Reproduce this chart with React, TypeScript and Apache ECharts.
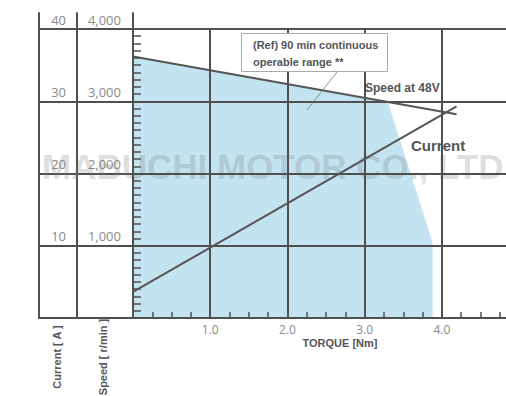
import { useEffect, useRef } from 'react';
import * as echarts from 'echarts';

// Data
const torqueTicks = [1, 2, 3, 4];
const speedTicks = [1000, 2000, 3000, 4000];
const currentTicks = [10, 20, 30, 40];
const speedTorque = [0, 4.19];
const speedValues = [3620, 2820];
const currentTorque = [0, 4.19];
const currentValues = [3.6, 29.3];
const rangeTorque = [0, 3.3, 3.88];
const rangeSpeed = [3620, 2990, 1040];

export default function App() {
  const ref = useRef<HTMLDivElement>(null);
  useEffect(() => {
    const chart = echarts.init(ref.current!, null, { renderer: 'svg' });
    const lineC = '#505050';
    const labelC = '#8a8a8a';
    const textC = '#555555';
    const font = 'Open Sans';
    const bold = '"Liberation Sans", Arial, sans-serif';
    const colMaxCurrent = (40 * 305) / 289;
    const colMaxSpeed = (4000 * 305) / 289;
    const axisLine = { show: true, onZero: false, lineStyle: { color: lineC, width: 2 } };
    const split = { show: true, showMinLine: false, showMaxLine: false, lineStyle: { color: lineC, width: 2 } };

    const option: any = {
      animation: false,
      textStyle: { fontFamily: font },
      grid: [
        { left: 133, right: 0, top: 29, bottom: 78, outerBoundsMode: 'none' },
        { left: 39, width: 38, top: 13, bottom: 78, outerBoundsMode: 'none' },
        { left: 77, width: 56, top: 13, bottom: 78, outerBoundsMode: 'none' },
      ],
      xAxis: [
        {
          gridIndex: 0, type: 'value', min: 0, max: 4.83, interval: 1, z: 3,
          axisLine,
          axisTick: { show: false, inside: true },
          minorTick: { show: true, splitNumber: 4, length: 6, lineStyle: { color: lineC, width: 1.5 } },
          minorSplitLine: { show: false },
          axisLabel: {
            formatter: (v: number) => (torqueTicks.includes(v) ? v.toFixed(1) : ''),
            color: labelC, fontSize: 12, fontFamily: font, margin: 5,
          },
          splitLine: split,
        },
        { gridIndex: 1, type: 'value', min: 0, max: 1, axisLine, axisTick: { show: false }, axisLabel: { show: false }, splitLine: { show: false } },
        { gridIndex: 2, type: 'value', min: 0, max: 1, axisLine, axisTick: { show: false }, axisLabel: { show: false }, splitLine: { show: false } },
      ],
      yAxis: [
        {
          gridIndex: 0, type: 'value', min: 0, max: 4000, interval: 1000, z: 3,
          axisLine,
          axisTick: { show: false, inside: true },
          minorTick: { show: true, splitNumber: 10, length: 8, lineStyle: { color: lineC, width: 1.5 } },
          minorSplitLine: { show: false },
          axisLabel: { show: false },
          splitLine: { ...split, showMaxLine: true },
        },
        { gridIndex: 0, type: 'value', min: 0, max: 40, show: false },
        {
          gridIndex: 1, type: 'value', position: 'left', min: 0, max: colMaxCurrent, interval: 10,
          axisLine, axisTick: { show: false }, axisLabel: { show: false }, splitLine: split,
        },
        {
          gridIndex: 1, type: 'value', position: 'right', min: 0, max: colMaxCurrent, interval: 10,
          axisLine, axisTick: { show: false }, splitLine: { show: false },
          axisLabel: {
            inside: true, margin: 11, verticalAlign: 'bottom', padding: [0, 0, 3, 0],
            formatter: (v: number) => (currentTicks.includes(v) ? String(v) : ''),
            color: labelC, fontSize: 13, fontFamily: font,
          },
        },
        {
          gridIndex: 2, type: 'value', position: 'right', min: 0, max: colMaxSpeed, interval: 1000,
          axisLine, axisTick: { show: false }, splitLine: split,
          axisLabel: {
            inside: true, margin: 12, verticalAlign: 'bottom', padding: [0, 0, 3, 0],
            formatter: (v: number) => (speedTicks.includes(v) ? v.toLocaleString('en-US') : ''),
            color: labelC, fontSize: 13, fontFamily: font,
          },
        },
      ],
      series: [
        {
          type: 'line', xAxisIndex: 0, yAxisIndex: 0, z: 1, silent: true,
          data: rangeTorque.map((t, i) => [t, rangeSpeed[i]]),
          symbol: 'none', lineStyle: { width: 0 },
          areaStyle: { color: '#c2e3ef', opacity: 1 },
        },
        {
          type: 'line', xAxisIndex: 0, yAxisIndex: 0, z: 5, silent: true,
          data: speedTorque.map((t, i) => [t, speedValues[i]]),
          symbol: 'none', lineStyle: { color: '#555', width: 2 },
        },
        {
          type: 'line', xAxisIndex: 0, yAxisIndex: 1, z: 5, silent: true,
          data: currentTorque.map((t, i) => [t, currentValues[i]]),
          symbol: 'none', lineStyle: { color: '#555', width: 2 },
        },
      ],
      graphic: [
        {
          type: 'text', x: 42, y: 166, z: 2, silent: true,
          style: { text: 'MABUCHI MOTOR CO., LTD', font: `bold 35px ${bold}`, fill: 'rgba(125,125,125,0.26)', align: 'left', verticalAlign: 'middle' },
        },
        {
          type: 'rect', z: 6, shape: { x: 241.5, y: 33.5, width: 146, height: 38 },
          style: { fill: '#ffffff', stroke: '#aaaaaa', lineWidth: 1 },
        },
        {
          type: 'text', x: 253, y: 45, z: 7,
          style: { text: '(Ref) 90 min continuous', font: `bold 11px ${bold}`, fill: textC, align: 'left', verticalAlign: 'middle' },
        },
        {
          type: 'text', x: 253, y: 62, z: 7,
          style: { text: 'operable range **', font: `bold 11px ${bold}`, fill: textC, align: 'left', verticalAlign: 'middle' },
        },
        {
          type: 'line', z: 7, shape: { x1: 337, y1: 72, x2: 307, y2: 110 },
          style: { stroke: '#777', lineWidth: 0.8 },
        },
        {
          type: 'text', x: 365, y: 88, z: 7,
          style: { text: 'Speed at 48V', font: `bold 12px ${bold}`, fill: textC, align: 'left', verticalAlign: 'middle' },
        },
        {
          type: 'text', x: 411, y: 145, z: 7,
          style: { text: 'Current', font: `bold 15px ${bold}`, fill: textC, align: 'left', verticalAlign: 'middle' },
        },
        {
          type: 'text', x: 340, y: 343, z: 7,
          style: { text: 'TORQUE [Nm]', font: `bold 11px ${bold}`, fill: textC, align: 'center', verticalAlign: 'middle' },
        },
        {
          type: 'text', x: 57, y: 357, z: 7, rotation: Math.PI / 2,
          style: { text: 'Current [ A ]', font: `bold 11px ${bold}`, fill: textC, align: 'center', verticalAlign: 'middle' },
        },
        {
          type: 'text', x: 103, y: 357, z: 7, rotation: Math.PI / 2,
          style: { text: 'Speed [ r/min ]', font: `bold 11px ${bold}`, fill: textC, align: 'center', verticalAlign: 'middle' },
        },
      ],
    };
    chart.setOption(option);
    return () => chart.dispose();
  }, []);
  return <div ref={ref} style={{ position: 'absolute', left: 0, top: 0, width: 506, height: 396 }} />;
}
